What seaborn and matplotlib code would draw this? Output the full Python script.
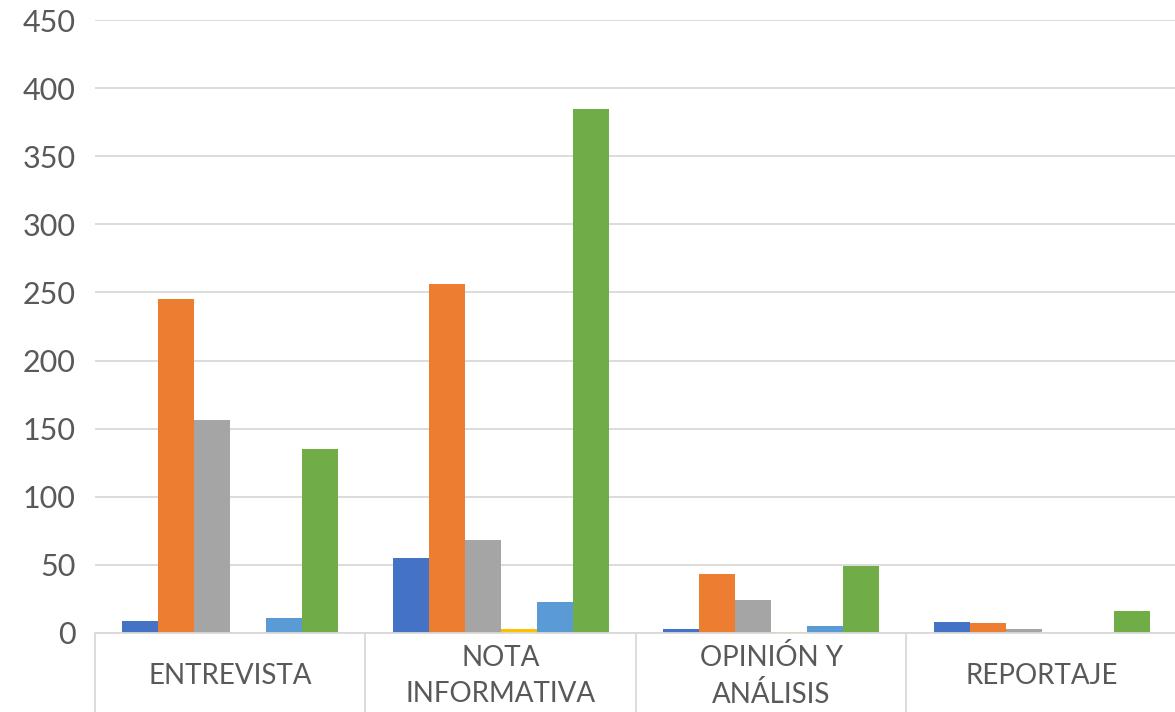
import matplotlib
matplotlib.use("Agg")
import matplotlib.pyplot as plt
import seaborn as sns
import pandas as pd

# Categories and series values
categorias = ["ENTREVISTA", "NOTA\nINFORMATIVA", "OPINIÓN Y\nANÁLISIS", "REPORTAJE"]
series = ["Serie 1", "Serie 2", "Serie 3", "Serie 4", "Serie 5", "Serie 6"]
serie_1 = [9, 55, 3, 8]
serie_2 = [245, 256, 43, 7]
serie_3 = [156, 68, 24, 3]
serie_4 = [0, 3, 1, 0]
serie_5 = [11, 23, 5, 0]
serie_6 = [135, 385, 49, 16]
y_ticks = [0, 50, 100, 150, 200, 250, 300, 350, 400, 450]

colores = ["#4472C4", "#ED7D31", "#A5A5A5", "#FFC000", "#5B9BD5", "#70AD47"]

valores = [serie_1, serie_2, serie_3, serie_4, serie_5, serie_6]
filas = []
for nombre, vals in zip(series, valores):
    for cat, v in zip(categorias, vals):
        filas.append({"categoria": cat, "serie": nombre, "valor": v})
df = pd.DataFrame(filas)

sns.set_theme(style="white")
plt.rcParams["font.family"] = ["Lato", "DejaVu Sans"]

fig = plt.figure(figsize=(11.75, 7.12), dpi=100)
ax = fig.add_axes([95 / 1175, 79 / 712, 1082 / 1175, (633 - 20) / 712])

sns.barplot(data=df, x="categoria", y="valor", hue="serie", order=categorias,
            hue_order=series, palette=colores, width=0.8, saturation=1,
            linewidth=0, legend=False, ax=ax)

ax.set_xlim(-0.5, 3.5)
ax.set_ylim(0, 450)
ax.set_yticks(y_ticks)
ax.set_yticklabels([str(t) for t in y_ticks])
ax.grid(axis="y", color="#D9D9D9", linewidth=1.3)
ax.set_axisbelow(True)
ax.set_xlabel("")
ax.set_ylabel("")

for side in ["left", "right", "top"]:
    ax.spines[side].set_visible(False)
ax.spines["bottom"].set_color("#D9D9D9")
ax.spines["bottom"].set_linewidth(1.3)

# Category separators extending down through the label band
ax.set_xticks([-0.5, 0.5, 1.5, 2.5, 3.5], minor=True)
ax.tick_params(axis="x", which="minor", bottom=True, length=58, width=1.3,
               color="#D9D9D9", direction="out")
ax.tick_params(axis="x", which="major", bottom=True, length=0, pad=31,
               labelsize=20, labelcolor="#595959")
ax.tick_params(axis="y", length=0, pad=14, labelsize=22, labelcolor="#595959")
ax.set_xticks(range(len(categorias)))
ax.set_xticklabels(categorias, va="center", linespacing=1.45)

fig.savefig("out.png", dpi=100)
